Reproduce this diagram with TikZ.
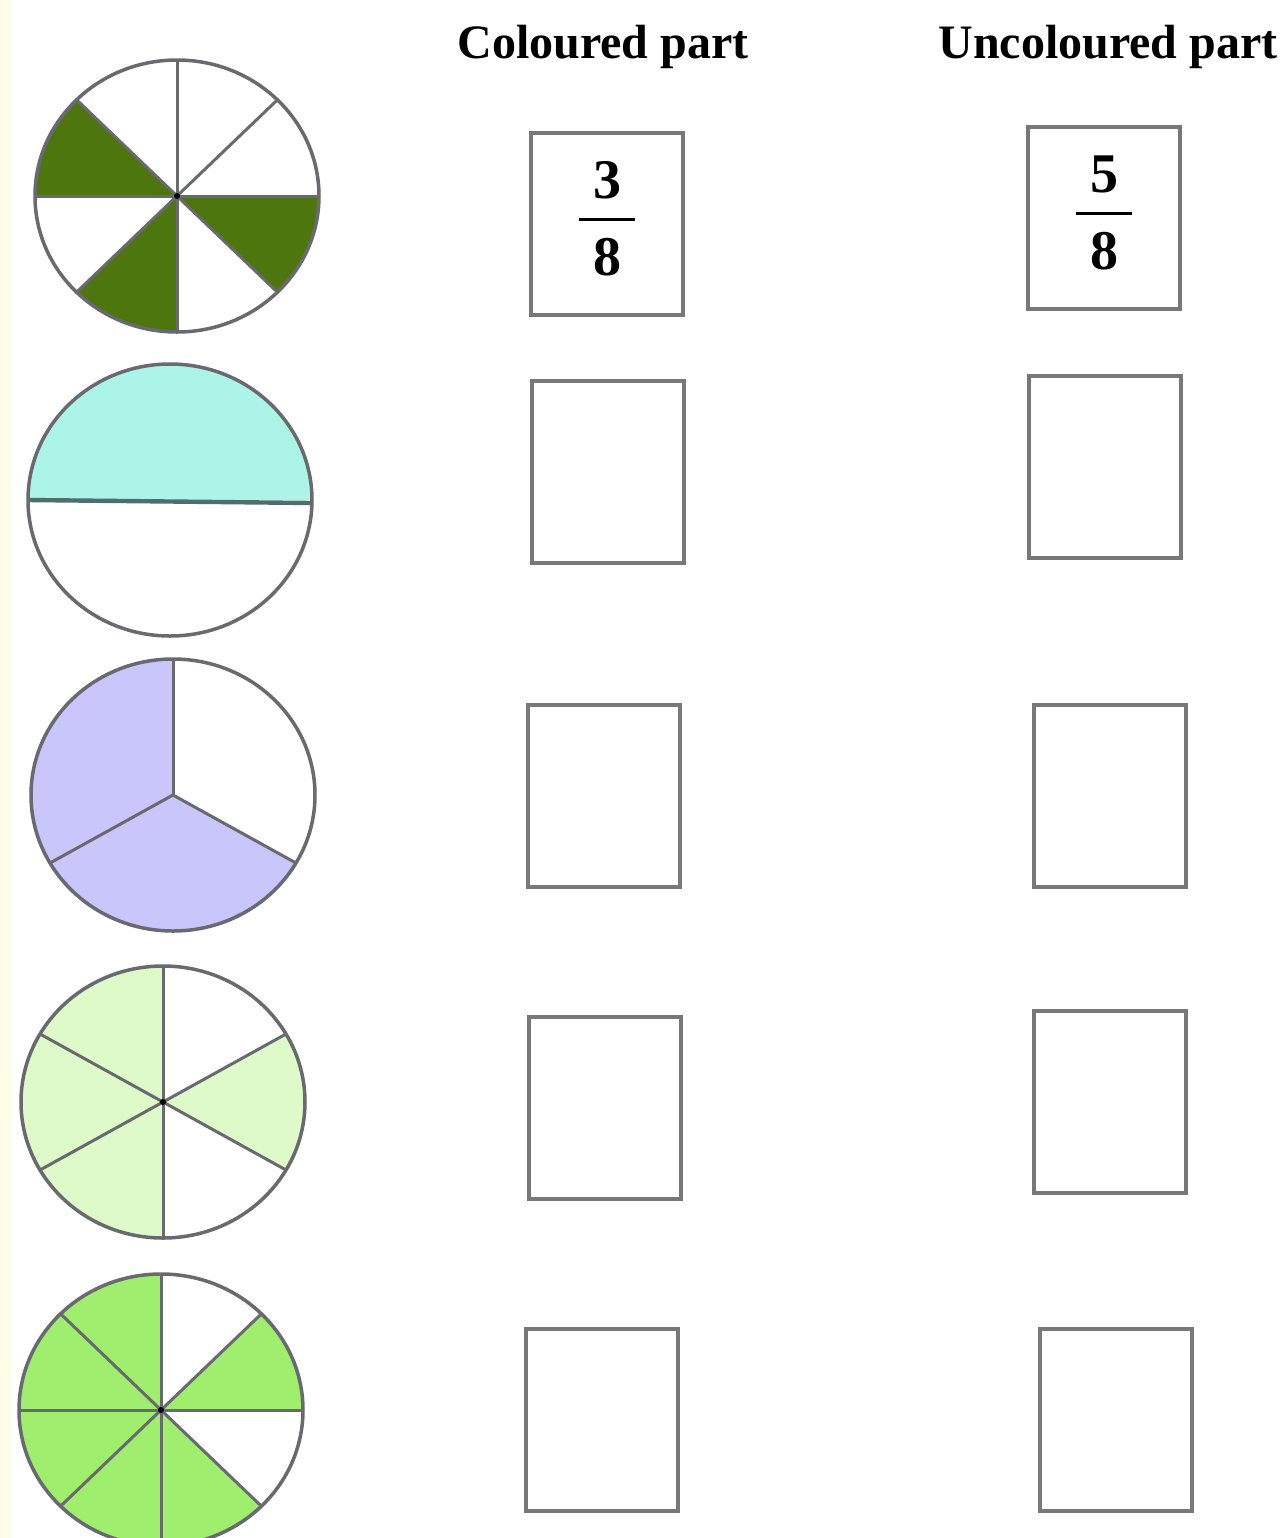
\documentclass[tikz,border=0pt]{standalone}
\usepackage{fontspec}
\setmainfont{Liberation Serif}

\definecolor{piegray}{RGB}{105,105,112}
\definecolor{boxgray}{RGB}{120,120,120}
\definecolor{olive}{RGB}{78,118,14}
\definecolor{aqua}{RGB}{172,244,232}
\definecolor{lavender}{RGB}{200,198,250}
\definecolor{palegreen}{RGB}{222,250,200}
\definecolor{limegreen}{RGB}{160,238,110}
\definecolor{cream}{RGB}{255,252,232}

% fraction written as number over number with a bar
\newcommand{\fracpair}[2]{\raisebox{3pt}{\fontsize{28}{32}\selectfont\bfseries
  \setlength{\arrayrulewidth}{1.6pt}%
  \begin{tabular}{@{\hspace{7pt}}c@{\hspace{7pt}}}#1\\\hline\rule{0pt}{27pt}#2\end{tabular}}}

% one filled slice of a pie
\newcommand{\slice}[4]{\fill[#4] (#1) -- ++(#2:142 and 136) arc[start angle=#2, end angle=#3, x radius=142, y radius=136] -- cycle;}

\tikzset{
  pie/.style={draw=piegray, line width=1.75pt},
  spoke/.style={draw=piegray, line width=1.5pt},
  answerbox/.style={draw=boxgray, line width=2pt, minimum width=76pt, minimum height=91pt, inner sep=0pt},
  head/.style={font=\fontsize{24}{28}\selectfont\bfseries},
}

\begin{document}
\begin{tikzpicture}[x=0.5pt, y=0.5pt]
    \useasboundingbox (0,0) rectangle (1288,-1538);
    \fill[white] (0,0) rectangle (1288,-1538);
    \fill[cream] (0,0) rectangle (12,-1538);

    % column heads
    \node[head] (hc) at (603,-47) {Coloured part};
    \node[head] (hu) at (1108,-47) {Uncoloured part};

    % pie centres
    \coordinate (p1) at (177,-196);
    \coordinate (p2) at (170,-500);
    \coordinate (p3) at (173,-795);
    \coordinate (p4) at (163,-1102);
    \coordinate (p5) at (161,-1410);

    % eighths, three coloured
    \slice{p1}{135}{180}{olive}
    \slice{p1}{225}{270}{olive}
    \slice{p1}{315}{360}{olive}
    \foreach \a in {0,45,...,315}
        \draw[spoke] (p1) -- ++(\a:142 and 136);
    \draw[pie] (p1) ellipse [x radius=142, y radius=136];
    \fill[black] (p1) circle (3);

    % halves
    \slice{p2}{0}{180}{aqua}
    \draw[spoke, line width=2.2pt, draw={rgb,255:red,80;green,110;blue,112}] (p2) ++(180:142 and 136) -- ++(284,-3);
    \draw[pie] (p2) ellipse [x radius=142, y radius=136];

    % thirds
    \slice{p3}{90}{330}{lavender}
    \foreach \a in {90,210,330}
        \draw[spoke] (p3) -- ++(\a:142 and 136);
    \draw[pie] (p3) ellipse [x radius=142, y radius=136];

    % sixths
    \slice{p4}{90}{270}{palegreen}
    \slice{p4}{-30}{30}{palegreen}
    \foreach \a in {30,90,...,330}
        \draw[spoke] (p4) -- ++(\a:142 and 136);
    \draw[pie] (p4) ellipse [x radius=142, y radius=136];
    \fill[black] (p4) circle (3);

    % eighths, six coloured
    \slice{p5}{90}{315}{limegreen}
    \slice{p5}{0}{45}{limegreen}
    \foreach \a in {0,45,...,315}
        \draw[spoke] (p5) -- ++(\a:142 and 136);
    \draw[pie] (p5) ellipse [x radius=142, y radius=136];
    \fill[black] (p5) circle (3);

    % answer boxes
    \node[answerbox] (c1) at (607,-224) {\fracpair{3}{8}};
    \node[answerbox] (u1) at (1104,-218) {\fracpair{5}{8}};
    \node[answerbox] (c2) at (608,-472) {};
    \node[answerbox] (u2) at (1105,-467) {};
    \node[answerbox] (c3) at (604,-796) {};
    \node[answerbox] (u3) at (1110,-796) {};
    \node[answerbox] (c4) at (605,-1108) {};
    \node[answerbox] (u4) at (1110,-1102) {};
    \node[answerbox] (c5) at (602,-1420) {};
    \node[answerbox] (u5) at (1116,-1420) {};
\end{tikzpicture}
\end{document}
